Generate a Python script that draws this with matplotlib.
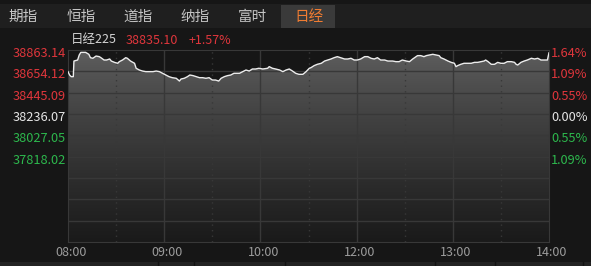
import numpy as np
import matplotlib
matplotlib.use("Agg")
import matplotlib.pyplot as plt
from matplotlib.patches import Rectangle
from matplotlib import transforms

plt.rcParams['font.family'] = ['Noto Sans CJK SC', 'DejaVu Sans']

# ── data ───────────────────────────────────────────────────────────────────
tabs = ['期指', '恒指', '道指', '纳指', '富时', '日经']
active_tab = '日经'
index_name = '日经225'
last_price = 38835.10
prev_close = 38236.07
axis_top = 38863.14
time_labels = ['08:00', '09:00', '10:00', '12:00', '13:00', '14:00']
time_ticks = [0, 60, 120, 180, 240, 300]      # trading minutes
half_ticks = [30, 90, 150, 210, 270]

minutes = [0, 1, 2, 3.3, 3.7, 6, 7, 8, 11, 13, 14, 15.5, 17.5, 19.5, 20.5,
           22.5, 24, 26, 27, 29, 31, 32, 34, 36, 37, 39, 41.5, 42.5, 44.5,
           46.5, 48.5, 53, 55, 57, 59, 61, 63, 65, 67.5, 69.5, 70.5, 72.5,
           74.5, 76, 78, 80, 82, 84, 86, 88, 90, 92, 94, 95.5, 97.5, 99.5,
           101.5, 103.5, 107, 109, 111, 113, 115, 117, 119, 121.5, 124.5,
           125.5, 127.5, 129.5, 132, 134, 136, 138, 140, 142, 144, 146.5,
           148.5, 150.5, 151.5, 153.5, 155.5, 158, 160, 162, 164, 166, 168,
           170, 172.5, 174.5, 176.5, 178.5, 180.5, 182.5, 185, 187, 189, 191,
           193, 195, 197.5, 199.5, 202.5, 204.5, 206.5, 208.5, 211, 213, 215,
           218, 220, 222, 223.5, 225.5, 227.5, 229.5, 231.5, 232.5, 234.5,
           237, 239, 241, 242, 243, 245, 247, 251.5, 253.5, 255.5, 257.5,
           259.5, 260.5, 262, 264, 266, 268, 270, 272, 274, 276.5, 278.5,
           279.5, 280.5, 282.5, 284.5, 286.5, 289, 291, 293, 295, 299, 300]
prices = [38651, 38618, 38602, 38602, 38755, 38765, 38814, 38840, 38840,
          38821, 38788, 38782, 38804, 38798, 38788, 38765, 38765, 38775,
          38755, 38742, 38733, 38749, 38765, 38788, 38782, 38755, 38733,
          38684, 38667, 38657, 38651, 38651, 38657, 38651, 38635, 38618,
          38602, 38592, 38586, 38559, 38579, 38586, 38602, 38618, 38612,
          38602, 38592, 38592, 38586, 38592, 38569, 38569, 38559, 38586,
          38602, 38612, 38618, 38635, 38635, 38651, 38667, 38657, 38677,
          38677, 38684, 38677, 38684, 38700, 38684, 38677, 38667, 38651,
          38667, 38677, 38657, 38635, 38625, 38625, 38651, 38684, 38690,
          38710, 38723, 38733, 38755, 38765, 38775, 38788, 38798, 38788,
          38775, 38775, 38782, 38765, 38765, 38775, 38798, 38798, 38782,
          38775, 38788, 38765, 38765, 38755, 38755, 38749, 38749, 38765,
          38755, 38749, 38775, 38808, 38808, 38798, 38808, 38814, 38821,
          38814, 38808, 38788, 38775, 38755, 38742, 38733, 38700, 38710,
          38723, 38733, 38733, 38742, 38742, 38749, 38755, 38765, 38749,
          38723, 38723, 38742, 38733, 38733, 38749, 38749, 38742, 38723,
          38716, 38742, 38755, 38765, 38782, 38775, 38782, 38765, 38765,
          38835.10]
assert len(minutes) == len(prices)

# ── colours ────────────────────────────────────────────────────────────────
BG = '#161616'
GRID = '#383838'
RED = '#e0363c'
GREEN = '#2db84d'
WHITE = '#e6e6e6'

W, H = 591, 266
fig = plt.figure(figsize=(W / 100, H / 100), dpi=100)
fig.patch.set_facecolor(BG)

def fx(x):
    return x / W

def fy(y):
    return 1 - y / H

# ── tab bar ────────────────────────────────────────────────────────────────
fig.patches.append(Rectangle((0, fy(28)), 1, fy(4) - fy(28), transform=fig.transFigure,
                             facecolor='#1f1f1f', edgecolor='none', zorder=0))
tab_x = [23, 81, 138, 195, 252, 309]
for name, x in zip(tabs, tab_x):
    if name == active_tab:
        fig.patches.append(Rectangle((fx(281), fy(28)), fx(335) - fx(281), fy(5) - fy(28),
                                     transform=fig.transFigure, facecolor='#3a3a3a',
                                     edgecolor='none', zorder=1))
        col = '#f07c32'
    else:
        col = '#c4c4c4'
    fig.text(fx(x), fy(17), name, color=col, fontsize=10.5, ha='center', va='center', zorder=2)

# header line
fig.text(fx(71), fy(40), index_name, color='#d4d4d4', fontsize=9, va='center')
chg = (last_price - prev_close) / prev_close * 100
fig.text(fx(126), fy(40), f'{last_price:.2f}', color=RED, fontsize=9, va='center')
fig.text(fx(189), fy(40), f'+{chg:.2f}%', color=RED, fontsize=9, va='center')

# bottom strip
fig.patches.append(Rectangle((0, 0), 1, fy(262), transform=fig.transFigure,
                             facecolor='#232323', edgecolor='none', zorder=0))
for x in [158, 194, 285, 435, 495, 583]:
    fig.add_artist(plt.Line2D([fx(x), fx(x)], [0, fy(262)], color='#121212', lw=1))

# ── price chart ────────────────────────────────────────────────────────────
ax = fig.add_axes([fx(68), fy(242), fx(549) - fx(68), fy(50) - fy(242)])
ax.set_facecolor(BG)
step = (axis_top - prev_close) / 3
levels = [prev_close + k * step for k in range(-6, 4)]
ymin, ymax = levels[0], levels[-1]
ax.set_xlim(0, 300)
ax.set_ylim(ymin, ymax)

# gradient fill under the line
grad = np.linspace(0, 1, 256)[:, None] ** 0.8
cmap = matplotlib.colors.LinearSegmentedColormap.from_list('g', ['#606060', '#1a1a1a'])
im = ax.imshow(grad, extent=[0, 300, ymin, ymax], aspect='auto', cmap=cmap,
               origin='upper', zorder=1)
poly = ax.fill_between(minutes, prices, ymin, color='none')
im.set_clip_path(poly.get_paths()[0], transform=ax.transData)

for lv in levels[1:-1]:
    ax.axhline(lv, color=GRID, lw=1, zorder=2)
for t in time_ticks[1:-1]:
    ax.axvline(t, color=GRID, lw=1, zorder=2)
for t in half_ticks:
    ax.axvline(t, color=GRID, lw=1, ls=(0, (1, 3)), zorder=2)

ax.plot(minutes, prices, color='#ececec', lw=1, zorder=3)

for s in ax.spines.values():
    s.set_color(GRID)
ax.set_xticks([])
ax.set_yticks([])

# axis labels (6 levels: +3 .. -2 steps)
lab_tr = transforms.offset_copy(ax.transData, fig=fig, x=0, y=-3.5, units='dots')
left_tr = transforms.blended_transform_factory(fig.transFigure, lab_tr)
for lv in levels[4:]:
    pct = (lv - prev_close) / prev_close * 100
    if abs(pct) < 1e-6:
        col = WHITE
    elif pct > 0:
        col = RED
    else:
        col = GREEN
    fig.text(fx(66), lv, f'{lv:.2f}', color=col, fontsize=9.2, ha='right', va='center',
             transform=left_tr)
    fig.text(fx(551), lv, f'{abs(pct):.2f}%', color=col, fontsize=9.2, ha='left', va='center',
             transform=left_tr)

for t, lab in zip(time_ticks, time_labels):
    fig.text(fx(68 + t * 481 / 300 + 3), fy(252), lab, color='#9c9c9c', fontsize=9,
             ha='center', va='center')

fig.savefig('out.png', dpi=100, facecolor=BG)
